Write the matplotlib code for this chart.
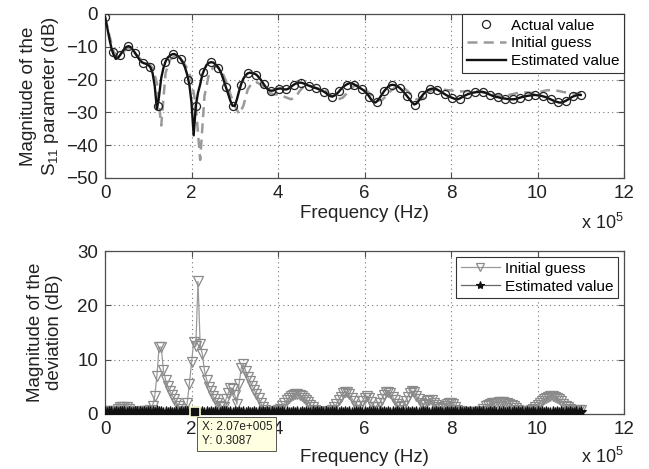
import numpy as np
import matplotlib
matplotlib.use("Agg")
import matplotlib.pyplot as plt
from matplotlib.ticker import FuncFormatter, MultipleLocator

plt.rcParams["font.family"] = ["Liberation Sans", "DejaVu Sans"]
plt.rcParams["mathtext.fontset"] = "custom"
plt.rcParams["mathtext.rm"] = "Liberation Sans"
plt.rcParams["mathtext.it"] = "Liberation Sans:italic"

# ---- top panel: |S11| in dB ----
# estimated value (solid black), 5 kHz grid from 0 to 1.1 MHz
est_step = 5e3
est_db = [
    -1, -4, -7.5, -10.5, -12.5, -13.7, -13.4, -12.5, -11.5, -10.6,
    -10, -9.8, -10.2, -11, -12, -13, -14, -14.7, -15, -15.2,
    -15.5, -16.3, -18, -22, -29, -25, -19.5, -16.5, -14.5, -13.3,
    -12.7, -12.3, -12.2, -12.5, -13, -13.7, -14.8, -16.3, -18.5, -21.5,
    -27, -37, -28, -24, -21.5, -18.5, -16.8, -15.5, -14.9, -14.7,
    -14.8, -15.3, -16, -17, -18.5, -20.5, -22.5, -24.5, -26.5, -28,
    -28, -26, -23.5, -21.3, -19.7, -18.7, -18.1, -17.9, -18, -18.2,
    -18.5, -19.2, -20, -21, -22, -22.8, -23.3, -23.4, -23.3, -23,
    -22.8, -22.7, -22.8, -23, -23, -22.7, -22.2, -21.7, -21.3, -21,
    -20.9, -21, -21.2, -21.5, -21.8, -22, -22.3, -22.5, -22.7, -23,
    -23.3, -23.6, -24, -24.6, -25, -25.2, -24.9, -24.4, -23.8, -23,
    -22.3, -21.8, -21.4, -21.1, -21.1, -21.4, -21.8, -22.2, -22.6, -23,
    -23.5, -24.2, -25, -26, -26.8, -27, -26.5, -25.6, -24.6, -23.6,
    -22.8, -22.1, -21.7, -21.6, -21.7, -22, -22.4, -23, -23.7, -24.5,
    -25.3, -26.2, -27, -27.6, -27.3, -26.5, -25.5, -24.6, -23.9, -23.3,
    -23, -22.8, -22.7, -22.9, -23.2, -23.6, -24, -24.4, -24.8, -25.1,
    -25.4, -25.7, -25.9, -26, -25.8, -25.4, -25, -24.7, -24.4, -24.2,
    -24, -23.9, -23.8, -23.7, -23.7, -23.8, -24, -24.3, -24.6, -24.9,
    -25.1, -25.3, -25.4, -25.6, -25.7, -25.8, -25.9, -26, -26, -26,
    -25.9, -25.7, -25.5, -25.3, -25.2, -25, -24.9, -24.8, -24.7, -24.7,
    -24.8, -24.9, -25, -25.2, -25.4, -25.7, -26, -26.3, -26.6, -26.8,
    -27, -27, -26.8, -26.5, -26.1, -25.7, -25.3, -25, -24.8, -24.7,
    -24.7,
]

# initial guess (dashed grey), 10 kHz grid
init_step = 1e4
init_db = [
    -1, -6.5, -11.5, -13.3, -12, -10.5, -10.5, -12, -13.5, -14.3,
    -15, -16.5, -21, -34, -18, -14, -13, -13.3, -14.5, -16.5,
    -20, -28, -44.5, -25, -18.5, -16.3, -16, -17.5, -20.5, -24.5,
    -28, -30.5, -28, -23, -21, -20.8, -21.5, -22.5, -24, -24.5,
    -24.5, -25, -25.5, -26, -25.5, -23.5, -22, -21.8, -22.2, -22.6,
    -23, -23.5, -24.5, -25.5, -26, -25.5, -24, -22.5, -21.7, -22,
    -22.8, -24, -25.3, -26.3, -26.3, -25, -23.5, -22.5, -22, -22.5,
    -23.5, -25, -26, -26.2, -25, -23.7, -23, -22.8, -23, -23.2,
    -23.3, -23.5, -23.6, -23.6, -23.5, -23.5, -23.6, -23.8, -24.1, -24.4,
    -24.6, -24.8, -24.9, -24.8, -24.5, -24.2, -24, -23.9, -24, -24.1,
    -24, -23.6, -23.3, -23.2, -23.3, -23.5, -23.8, -24, -24.2, -24.2,
    -24,
]

# actual value (open circles), 64 samples from 0 to 1.1 MHz
act_db = [
    -1, -11.5, -12.5, -9.9, -12, -14.9, -16.3, -28, -14.6, -12.3,
    -13.7, -20, -28, -17.8, -14.7, -16.4, -22.3, -28, -21.6, -18,
    -18.5, -21.3, -23.4, -22.8, -23, -21.6, -21, -21.9, -22.7, -23.7,
    -25.2, -23.6, -21.5, -21.5, -22.9, -25.2, -26.7, -23.5, -21.6, -22.5,
    -25, -27.6, -24.8, -23, -23.1, -24.5, -25.6, -25.8, -24.5, -23.9,
    -23.8, -24.6, -25.4, -25.8, -26, -25.5, -24.9, -24.7, -25.1, -26,
    -26.9, -26.5, -25.1, -24.7,
]

# ---- bottom panel: |deviation| in dB, 5 kHz grid ----
dev_init = [
    0.3, 0.5, 0.6, 0.5, 0.4, 0.6, 1.0, 1.2, 1.3, 1.3,
    1.2, 1.0, 0.6, 0.4, 0.3, 0.3, 0.4, 0.5, 0.5, 0.5,
    0.6, 0.8, 1.5, 3.3, 7.0, 12.3, 12.3, 8.1, 6.3, 5.1,
    4.2, 3.5, 2.8, 2.1, 1.5, 1.0, 0.6, 0.4, 2.0, 5.5,
    9.5, 13.3, 12.5, 24.4, 12.8, 11.0, 8.0, 6.3, 5.0, 4.3,
    3.3, 2.7, 2.0, 1.5, 1.2, 1.3, 2.8, 3.8, 4.8, 4.6,
    3.5, 1.8, 5.5, 8.5, 9.2, 8.0, 6.8, 6.0, 5.2, 4.4,
    3.7, 2.9, 2.1, 1.3, 0.7, 0.4, 0.3, 0.4, 0.5, 0.6,
    0.8, 1.0, 1.5, 2.0, 2.5, 3.0, 3.3, 3.5, 3.6, 3.6,
    3.5, 3.3, 3.0, 2.6, 2.2, 1.7, 1.2, 0.8, 0.5, 0.4,
    0.3, 0.3, 0.4, 0.5, 0.6, 0.8, 1.2, 1.8, 2.5, 3.2,
    3.8, 4.1, 4.0, 3.6, 3.0, 2.3, 1.5, 0.8, 1.5, 2.3,
    3.0, 3.3, 3.0, 2.2, 1.3, 0.6, 1.2, 2.0, 2.8, 3.5,
    4.0, 4.1, 3.8, 3.2, 2.5, 1.8, 1.2, 0.8, 1.5, 2.4,
    3.2, 3.9, 4.2, 4.0, 3.4, 2.7, 2.0, 1.6, 1.8, 2.3,
    2.6, 2.5, 2.1, 1.6, 1.2, 1.0, 1.1, 1.5, 1.9, 2.1,
    2.1, 1.8, 1.3, 0.8, 0.5, 0.4, 0.3, 0.3, 0.3, 0.3,
    0.3, 0.3, 0.3, 0.3, 0.6, 1.0, 1.4, 1.7, 1.9, 2.0,
    2.1, 2.1, 2.2, 2.2, 2.2, 2.1, 2.0, 1.9, 1.7, 1.4,
    1.1, 0.8, 0.6, 0.5, 0.4, 0.4, 0.5, 0.7, 0.9, 1.2,
    1.6, 2.0, 2.4, 2.8, 3.0, 3.2, 3.3, 3.3, 3.2, 3.0,
    2.7, 2.3, 1.9, 1.5, 1.2, 0.9, 0.7, 0.6, 0.6, 0.7,
    0.8,
]
dev_est = [
    0.3, 0.2, 0.3, 0.4, 0.2, 0.3, 0.2, 0.3, 0.4, 0.3,
    0.2, 0.3, 0.2, 0.2, 0.3, 0.4, 0.3, 0.2, 0.3, 0.2,
    0.3, 0.4, 0.3, 0.2, 0.5, 0.4, 0.3, 0.2, 0.3, 0.2,
    0.3, 0.2, 0.2, 0.3, 0.2, 0.3, 0.2, 0.3, 0.4, 0.3,
    0.3, 0.31, 0.4, 0.3, 0.2, 0.3, 0.2, 0.3, 0.2, 0.3,
    0.2, 0.3, 0.2, 0.2, 0.3, 0.4, 0.3, 0.2, 0.3, 0.2,
    0.3, 0.2, 0.3, 0.2, 0.3, 0.2, 0.3, 0.2, 0.2, 0.3,
    0.2, 0.3, 0.2, 0.3, 0.2, 0.3, 0.2, 0.3, 0.2, 0.2,
    0.3, 0.2, 0.3, 0.2, 0.3, 0.2, 0.2, 0.3, 0.2, 0.3,
    0.2, 0.3, 0.2, 0.3, 0.2, 0.2, 0.3, 0.2, 0.3, 0.2,
    0.3, 0.2, 0.3, 0.2, 0.2, 0.3, 0.2, 0.3, 0.2, 0.3,
    0.2, 0.3, 0.2, 0.3, 0.2, 0.2, 0.3, 0.2, 0.3, 0.2,
    0.3, 0.2, 0.3, 0.2, 0.3, 0.2, 0.2, 0.3, 0.2, 0.3,
    0.2, 0.3, 0.2, 0.3, 0.2, 0.3, 0.2, 0.2, 0.3, 0.2,
    0.3, 0.2, 0.3, 0.2, 0.3, 0.2, 0.2, 0.3, 0.2, 0.3,
    0.2, 0.3, 0.2, 0.3, 0.2, 0.3, 0.2, 0.2, 0.3, 0.2,
    0.3, 0.2, 0.3, 0.2, 0.3, 0.2, 0.2, 0.3, 0.2, 0.3,
    0.2, 0.3, 0.2, 0.3, 0.2, 0.3, 0.2, 0.2, 0.3, 0.2,
    0.3, 0.2, 0.3, 0.2, 0.3, 0.2, 0.2, 0.3, 0.2, 0.3,
    0.2, 0.3, 0.2, 0.3, 0.2, 0.3, 0.2, 0.2, 0.3, 0.2,
    0.3, 0.2, 0.3, 0.2, 0.3, 0.2, 0.2, 0.3, 0.2, 0.3,
    0.2, 0.3, 0.2, 0.3, 0.2, 0.3, 0.2, 0.2, 0.3, 0.2,
    0.3,
]
dev_step = 5e3
tip_x, tip_y = 2.07e5, 0.3087

f_est = np.arange(len(est_db)) * est_step
f_init = np.arange(len(init_db)) * init_step
f_act = np.linspace(0, 1.1e6, len(act_db))
f_dev = np.arange(len(dev_init)) * dev_step

SPINE = "#4d4d4d"
TXT = "#222222"


def style(ax, xpad, exp_y):
    ax.set_xlim(0, 1.2e6)
    ax.xaxis.set_major_locator(MultipleLocator(2e5))
    ax.xaxis.set_major_formatter(FuncFormatter(lambda v, p: f"{v / 1e5:g}"))
    ax.grid(True, linestyle=(0, (1, 3)), color="#777777", linewidth=0.8)
    ax.tick_params(direction="in", length=4, width=0.8, top=True, right=True,
                   labelsize=13.5, colors=SPINE, labelcolor=TXT, pad=5)
    for s in ax.spines.values():
        s.set_color(SPINE)
        s.set_linewidth(0.9)
    ax.set_xlabel("Frequency (Hz)", fontsize=13.5, color=TXT, labelpad=xpad)
    ax.text(1.0, exp_y, "x 10$^5$", transform=ax.transAxes, ha="right", va="top",
            fontsize=13, color=TXT)


fig = plt.figure(figsize=(6.49, 4.69), dpi=100)
ax1 = fig.add_axes([0.1618, 0.6205, 0.7997, 0.3497])
ax2 = fig.add_axes([0.1618, 0.1173, 0.7997, 0.3475])

ax1.plot(f_act, act_db, "o", mfc="none", mec="#222222", ms=5.8, mew=0.9, label="Actual value", zorder=4)
ax1.plot(f_init, init_db, "--", color="#9a9a9a", lw=1.8, dashes=(4, 2.5), label="Initial guess", zorder=2)
ax1.plot(f_est, est_db, "-", color="#111111", lw=1.7, label="Estimated value", zorder=3)
ax1.set_ylim(-50, 0)
ax1.yaxis.set_major_locator(MultipleLocator(10))
style(ax1, 2, -0.215)
ax1.set_ylabel("Magnitude of the\nS$_{11}$ parameter (dB)", fontsize=13.5, color=TXT, labelpad=4)
leg = ax1.legend(loc="upper right", bbox_to_anchor=(1, 1), borderaxespad=0, fontsize=11,
                 fancybox=False, framealpha=1, edgecolor="#333333", handlelength=2.6,
                 handletextpad=0.3, labelspacing=0.25, borderpad=0.3)
leg.get_frame().set_linewidth(0.8)

ax2.plot(f_dev, dev_init, "-v", color="#9a9a9a", mfc="none", mec="#8a8a8a", ms=7.5, mew=0.9,
         lw=0.9, label="Initial guess", zorder=2)
ax2.plot(f_dev, dev_est, "-*", color="#666666", mfc="#111111", mec="#111111", ms=8, mew=0.8,
         lw=0.9, label="Estimated value", zorder=3)
ax2.set_ylim(0, 30)
ax2.yaxis.set_major_locator(MultipleLocator(10))
style(ax2, 8, -0.2)
ax2.set_ylabel("Magnitude of the\ndeviation (dB)", fontsize=13.5, color=TXT, labelpad=10)
leg2 = ax2.legend(loc="upper right", borderaxespad=0.4, fontsize=11, fancybox=False, framealpha=1,
                  edgecolor="#333333", handlelength=2.6, handletextpad=0.3, labelspacing=0.25,
                  borderpad=0.3, markerscale=0.75)
leg2.get_frame().set_linewidth(0.8)

# data tip
ax2.plot([tip_x], [tip_y], "s", ms=6.5, mfc="#111111", mec="#ffffd8", mew=1.2, zorder=6, clip_on=False)
ax2.annotate(f"X: 2.07e+005\nY: {tip_y}", xy=(tip_x, tip_y), xytext=(7, -9),
             textcoords="offset pixels", ha="left", va="top", fontsize=8.5, color=TXT,
             bbox=dict(boxstyle="square,pad=0.35", fc="#ffffe1", ec="#555555", lw=0.7),
             zorder=7, annotation_clip=False)

fig.savefig("out.png", dpi=100)
